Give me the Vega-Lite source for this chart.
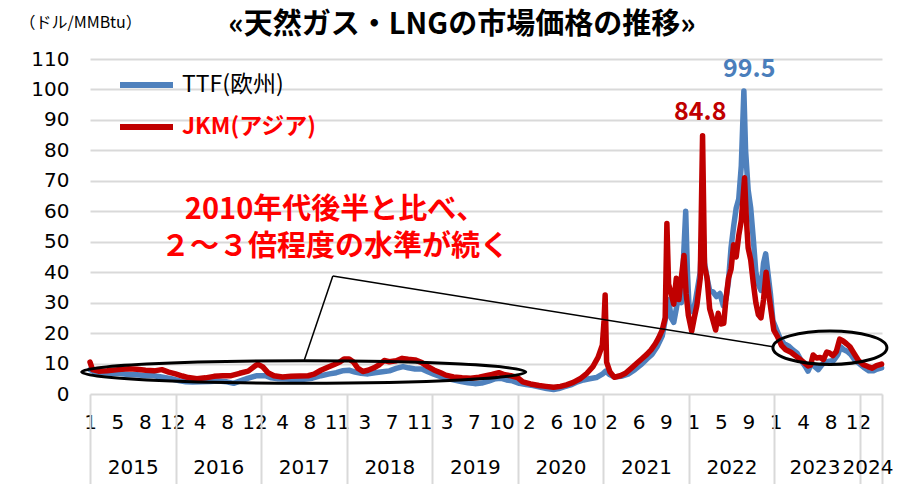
{
"$schema": "https://vega.github.io/schema/vega-lite/v6.json",
"width": 792, "height": 335,
"autosize": {"type": "none"},
"padding": {"left": 90, "top": 59, "right": 33, "bottom": 90},
"background": "white",
"config": {"view": {"stroke": null}, "font": "DejaVu Sans"},
"title": {"text": "«天然ガス・LNGの市場価格の推移»", "font": "Noto Sans CJK JP", "fontWeight": "bold", "fontSize": 29, "color": "#000000", "anchor": "middle", "frame": "group", "dx": -24, "offset": -26},
"datasets": {
"prices": [
{"s":"TTF(欧州)","year":2015.00,"price":8.0},{"s":"TTF(欧州)","year":2015.05,"price":7.3},{"s":"TTF(欧州)","year":2015.15,"price":7.0},{"s":"TTF(欧州)","year":2015.25,"price":6.8},{"s":"TTF(欧州)","year":2015.35,"price":6.7},{"s":"TTF(欧州)","year":2015.45,"price":6.4},{"s":"TTF(欧州)","year":2015.55,"price":6.3},{"s":"TTF(欧州)","year":2015.65,"price":6.0},{"s":"TTF(欧州)","year":2015.75,"price":6.0},{"s":"TTF(欧州)","year":2015.85,"price":5.5},{"s":"TTF(欧州)","year":2015.95,"price":5.0},
{"s":"TTF(欧州)","year":2016.05,"price":4.3},{"s":"TTF(欧州)","year":2016.12,"price":4.0},{"s":"TTF(欧州)","year":2016.20,"price":3.9},{"s":"TTF(欧州)","year":2016.30,"price":4.0},{"s":"TTF(欧州)","year":2016.40,"price":4.1},{"s":"TTF(欧州)","year":2016.50,"price":4.3},{"s":"TTF(欧州)","year":2016.60,"price":4.0},{"s":"TTF(欧州)","year":2016.68,"price":3.5},{"s":"TTF(欧州)","year":2016.75,"price":4.2},{"s":"TTF(欧州)","year":2016.85,"price":5.2},{"s":"TTF(欧州)","year":2016.95,"price":6.0},
{"s":"TTF(欧州)","year":2017.05,"price":6.0},{"s":"TTF(欧州)","year":2017.12,"price":5.3},{"s":"TTF(欧州)","year":2017.20,"price":5.0},{"s":"TTF(欧州)","year":2017.30,"price":4.9},{"s":"TTF(欧州)","year":2017.40,"price":4.8},{"s":"TTF(欧州)","year":2017.50,"price":4.8},{"s":"TTF(欧州)","year":2017.60,"price":5.2},{"s":"TTF(欧州)","year":2017.70,"price":6.0},{"s":"TTF(欧州)","year":2017.80,"price":6.6},{"s":"TTF(欧州)","year":2017.88,"price":7.0},{"s":"TTF(欧州)","year":2017.95,"price":7.6},
{"s":"TTF(欧州)","year":2018.03,"price":7.8},{"s":"TTF(欧州)","year":2018.10,"price":7.2},{"s":"TTF(欧州)","year":2018.17,"price":6.8},{"s":"TTF(欧州)","year":2018.25,"price":6.6},{"s":"TTF(欧州)","year":2018.33,"price":7.0},{"s":"TTF(欧州)","year":2018.42,"price":7.3},{"s":"TTF(欧州)","year":2018.50,"price":7.6},{"s":"TTF(欧州)","year":2018.58,"price":8.4},{"s":"TTF(欧州)","year":2018.66,"price":9.0},{"s":"TTF(欧州)","year":2018.72,"price":8.6},{"s":"TTF(欧州)","year":2018.80,"price":8.2},{"s":"TTF(欧州)","year":2018.88,"price":8.2},{"s":"TTF(欧州)","year":2018.95,"price":7.3},
{"s":"TTF(欧州)","year":2019.02,"price":6.5},{"s":"TTF(欧州)","year":2019.10,"price":5.7},{"s":"TTF(欧州)","year":2019.18,"price":5.1},{"s":"TTF(欧州)","year":2019.26,"price":4.6},{"s":"TTF(欧州)","year":2019.34,"price":4.1},{"s":"TTF(欧州)","year":2019.42,"price":3.7},{"s":"TTF(欧州)","year":2019.50,"price":3.4},{"s":"TTF(欧州)","year":2019.58,"price":3.6},{"s":"TTF(欧州)","year":2019.66,"price":4.2},{"s":"TTF(欧州)","year":2019.74,"price":5.0},{"s":"TTF(欧州)","year":2019.80,"price":5.2},{"s":"TTF(欧州)","year":2019.87,"price":4.6},{"s":"TTF(欧州)","year":2019.94,"price":4.3},
{"s":"TTF(欧州)","year":2020.02,"price":3.5},{"s":"TTF(欧州)","year":2020.10,"price":3.1},{"s":"TTF(欧州)","year":2020.18,"price":2.8},{"s":"TTF(欧州)","year":2020.26,"price":2.3},{"s":"TTF(欧州)","year":2020.34,"price":1.8},{"s":"TTF(欧州)","year":2020.42,"price":1.5},{"s":"TTF(欧州)","year":2020.48,"price":1.8},{"s":"TTF(欧州)","year":2020.55,"price":2.4},{"s":"TTF(欧州)","year":2020.62,"price":3.0},{"s":"TTF(欧州)","year":2020.70,"price":4.0},{"s":"TTF(欧州)","year":2020.77,"price":4.6},{"s":"TTF(欧州)","year":2020.84,"price":5.0},{"s":"TTF(欧州)","year":2020.92,"price":5.4},{"s":"TTF(欧州)","year":2020.99,"price":6.5},
{"s":"TTF(欧州)","year":2021.03,"price":7.5},{"s":"TTF(欧州)","year":2021.07,"price":6.5},{"s":"TTF(欧州)","year":2021.13,"price":5.6},{"s":"TTF(欧州)","year":2021.21,"price":5.8},{"s":"TTF(欧州)","year":2021.29,"price":6.5},{"s":"TTF(欧州)","year":2021.37,"price":8.0},{"s":"TTF(欧州)","year":2021.45,"price":9.8},{"s":"TTF(欧州)","year":2021.51,"price":11.5},{"s":"TTF(欧州)","year":2021.57,"price":13.0},{"s":"TTF(欧州)","year":2021.63,"price":15.5},{"s":"TTF(欧州)","year":2021.69,"price":19.0},{"s":"TTF(欧州)","year":2021.73,"price":25.0},{"s":"TTF(欧州)","year":2021.765,"price":31.0},{"s":"TTF(欧州)","year":2021.795,"price":25.0},{"s":"TTF(欧州)","year":2021.825,"price":23.5},{"s":"TTF(欧州)","year":2021.855,"price":28.0},{"s":"TTF(欧州)","year":2021.885,"price":33.0},{"s":"TTF(欧州)","year":2021.915,"price":30.0},{"s":"TTF(欧州)","year":2021.94,"price":45.0},{"s":"TTF(欧州)","year":2021.965,"price":60.0},{"s":"TTF(欧州)","year":2021.985,"price":40.0},
{"s":"TTF(欧州)","year":2022.005,"price":28.0},{"s":"TTF(欧州)","year":2022.045,"price":27.0},{"s":"TTF(欧州)","year":2022.075,"price":30.0},{"s":"TTF(欧州)","year":2022.105,"price":35.0},{"s":"TTF(欧州)","year":2022.135,"price":40.0},{"s":"TTF(欧州)","year":2022.162,"price":58.0},{"s":"TTF(欧州)","year":2022.185,"price":43.0},{"s":"TTF(欧州)","year":2022.215,"price":38.0},{"s":"TTF(欧州)","year":2022.245,"price":34.0},{"s":"TTF(欧州)","year":2022.285,"price":33.5},{"s":"TTF(欧州)","year":2022.325,"price":32.0},{"s":"TTF(欧州)","year":2022.365,"price":33.0},{"s":"TTF(欧州)","year":2022.405,"price":29.0},{"s":"TTF(欧州)","year":2022.435,"price":31.0},{"s":"TTF(欧州)","year":2022.465,"price":37.0},{"s":"TTF(欧州)","year":2022.495,"price":48.0},{"s":"TTF(欧州)","year":2022.525,"price":55.0},{"s":"TTF(欧州)","year":2022.555,"price":61.0},{"s":"TTF(欧州)","year":2022.585,"price":64.0},{"s":"TTF(欧州)","year":2022.615,"price":75.0},{"s":"TTF(欧州)","year":2022.645,"price":99.5},{"s":"TTF(欧州)","year":2022.665,"price":80.0},{"s":"TTF(欧州)","year":2022.695,"price":67.0},{"s":"TTF(欧州)","year":2022.725,"price":61.0},{"s":"TTF(欧州)","year":2022.755,"price":51.0},{"s":"TTF(欧州)","year":2022.785,"price":40.0},{"s":"TTF(欧州)","year":2022.815,"price":36.0},{"s":"TTF(欧州)","year":2022.845,"price":34.0},{"s":"TTF(欧州)","year":2022.875,"price":43.0},{"s":"TTF(欧州)","year":2022.90,"price":46.0},{"s":"TTF(欧州)","year":2022.925,"price":40.0},{"s":"TTF(欧州)","year":2022.955,"price":33.0},{"s":"TTF(欧州)","year":2022.985,"price":24.0},
{"s":"TTF(欧州)","year":2023.015,"price":22.0},{"s":"TTF(欧州)","year":2023.065,"price":18.5},{"s":"TTF(欧州)","year":2023.115,"price":16.5},{"s":"TTF(欧州)","year":2023.165,"price":15.8},{"s":"TTF(欧州)","year":2023.215,"price":14.5},{"s":"TTF(欧州)","year":2023.265,"price":13.5},{"s":"TTF(欧州)","year":2023.315,"price":11.0},{"s":"TTF(欧州)","year":2023.365,"price":9.0},{"s":"TTF(欧州)","year":2023.395,"price":7.5},{"s":"TTF(欧州)","year":2023.435,"price":10.0},{"s":"TTF(欧州)","year":2023.475,"price":9.0},{"s":"TTF(欧州)","year":2023.515,"price":8.0},{"s":"TTF(欧州)","year":2023.555,"price":9.5},{"s":"TTF(欧州)","year":2023.595,"price":10.5},{"s":"TTF(欧州)","year":2023.645,"price":10.8},{"s":"TTF(欧州)","year":2023.695,"price":11.0},{"s":"TTF(欧州)","year":2023.745,"price":13.0},{"s":"TTF(欧州)","year":2023.775,"price":15.5},{"s":"TTF(欧州)","year":2023.815,"price":14.5},{"s":"TTF(欧州)","year":2023.855,"price":14.0},{"s":"TTF(欧州)","year":2023.895,"price":13.0},{"s":"TTF(欧州)","year":2023.945,"price":11.0},{"s":"TTF(欧州)","year":2023.995,"price":10.0},
{"s":"TTF(欧州)","year":2024.045,"price":8.8},{"s":"TTF(欧州)","year":2024.105,"price":7.6},{"s":"TTF(欧州)","year":2024.155,"price":7.6},{"s":"TTF(欧州)","year":2024.205,"price":8.2},{"s":"TTF(欧州)","year":2024.255,"price":8.6},
{"s":"JKM(アジア)","year":2015.00,"price":10.5},{"s":"JKM(アジア)","year":2015.03,"price":8.0},{"s":"JKM(アジア)","year":2015.10,"price":7.5},{"s":"JKM(アジア)","year":2015.20,"price":7.6},{"s":"JKM(アジア)","year":2015.33,"price":8.0},{"s":"JKM(アジア)","year":2015.45,"price":8.3},{"s":"JKM(アジア)","year":2015.55,"price":8.1},{"s":"JKM(アジア)","year":2015.65,"price":7.8},{"s":"JKM(アジア)","year":2015.75,"price":7.6},{"s":"JKM(アジア)","year":2015.84,"price":8.0},{"s":"JKM(アジア)","year":2015.92,"price":7.2},
{"s":"JKM(アジア)","year":2016.00,"price":6.6},{"s":"JKM(アジア)","year":2016.08,"price":5.9},{"s":"JKM(アジア)","year":2016.15,"price":5.4},{"s":"JKM(アジア)","year":2016.25,"price":5.0},{"s":"JKM(アジア)","year":2016.35,"price":5.3},{"s":"JKM(アジア)","year":2016.45,"price":5.8},{"s":"JKM(アジア)","year":2016.55,"price":6.0},{"s":"JKM(アジア)","year":2016.65,"price":6.0},{"s":"JKM(アジア)","year":2016.75,"price":6.8},{"s":"JKM(アジア)","year":2016.85,"price":7.5},{"s":"JKM(アジア)","year":2016.92,"price":9.0},{"s":"JKM(アジア)","year":2016.96,"price":9.8},
{"s":"JKM(アジア)","year":2017.02,"price":8.9},{"s":"JKM(アジア)","year":2017.08,"price":7.0},{"s":"JKM(アジア)","year":2017.15,"price":6.0},{"s":"JKM(アジア)","year":2017.25,"price":5.6},{"s":"JKM(アジア)","year":2017.35,"price":5.8},{"s":"JKM(アジア)","year":2017.45,"price":5.9},{"s":"JKM(アジア)","year":2017.55,"price":6.0},{"s":"JKM(アジア)","year":2017.62,"price":6.5},{"s":"JKM(アジア)","year":2017.70,"price":7.8},{"s":"JKM(アジア)","year":2017.78,"price":8.8},{"s":"JKM(アジア)","year":2017.85,"price":9.6},{"s":"JKM(アジア)","year":2017.92,"price":10.5},{"s":"JKM(アジア)","year":2017.97,"price":11.5},
{"s":"JKM(アジア)","year":2018.03,"price":11.5},{"s":"JKM(アジア)","year":2018.08,"price":10.5},{"s":"JKM(アジア)","year":2018.13,"price":8.5},{"s":"JKM(アジア)","year":2018.19,"price":7.4},{"s":"JKM(アジア)","year":2018.25,"price":7.8},{"s":"JKM(アジア)","year":2018.32,"price":8.6},{"s":"JKM(アジア)","year":2018.38,"price":9.6},{"s":"JKM(アジア)","year":2018.44,"price":11.0},{"s":"JKM(アジア)","year":2018.50,"price":10.6},{"s":"JKM(アジア)","year":2018.58,"price":10.9},{"s":"JKM(アジア)","year":2018.65,"price":11.7},{"s":"JKM(アジア)","year":2018.72,"price":11.4},{"s":"JKM(アジア)","year":2018.80,"price":11.2},{"s":"JKM(アジア)","year":2018.88,"price":10.3},{"s":"JKM(アジア)","year":2018.95,"price":9.0},
{"s":"JKM(アジア)","year":2019.02,"price":7.9},{"s":"JKM(アジア)","year":2019.10,"price":7.0},{"s":"JKM(アジア)","year":2019.16,"price":6.2},{"s":"JKM(アジア)","year":2019.25,"price":5.6},{"s":"JKM(アジア)","year":2019.35,"price":5.3},{"s":"JKM(アジア)","year":2019.45,"price":5.2},{"s":"JKM(アジア)","year":2019.55,"price":5.5},{"s":"JKM(アジア)","year":2019.63,"price":6.0},{"s":"JKM(アジア)","year":2019.70,"price":6.4},{"s":"JKM(アジア)","year":2019.78,"price":7.0},{"s":"JKM(アジア)","year":2019.85,"price":6.3},{"s":"JKM(アジア)","year":2019.92,"price":6.0},
{"s":"JKM(アジア)","year":2020.00,"price":5.4},{"s":"JKM(アジア)","year":2020.06,"price":4.0},{"s":"JKM(アジア)","year":2020.15,"price":3.3},{"s":"JKM(アジア)","year":2020.25,"price":2.8},{"s":"JKM(アジア)","year":2020.33,"price":2.5},{"s":"JKM(アジア)","year":2020.42,"price":2.2},{"s":"JKM(アジア)","year":2020.50,"price":2.5},{"s":"JKM(アジア)","year":2020.57,"price":3.0},{"s":"JKM(アジア)","year":2020.65,"price":3.8},{"s":"JKM(アジア)","year":2020.73,"price":5.0},{"s":"JKM(アジア)","year":2020.81,"price":6.8},{"s":"JKM(アジア)","year":2020.88,"price":9.0},{"s":"JKM(アジア)","year":2020.94,"price":12.0},{"s":"JKM(アジア)","year":2020.99,"price":16.0},
{"s":"JKM(アジア)","year":2021.01,"price":24.0},{"s":"JKM(アジア)","year":2021.023,"price":32.5},{"s":"JKM(アジア)","year":2021.04,"price":10.5},{"s":"JKM(アジア)","year":2021.08,"price":7.2},{"s":"JKM(アジア)","year":2021.13,"price":5.5},{"s":"JKM(アジア)","year":2021.20,"price":6.0},{"s":"JKM(アジア)","year":2021.26,"price":6.8},{"s":"JKM(アジア)","year":2021.33,"price":8.5},{"s":"JKM(アジア)","year":2021.39,"price":10.0},{"s":"JKM(アジア)","year":2021.45,"price":11.5},{"s":"JKM(アジア)","year":2021.51,"price":13.0},{"s":"JKM(アジア)","year":2021.56,"price":14.5},{"s":"JKM(アジア)","year":2021.61,"price":16.5},{"s":"JKM(アジア)","year":2021.65,"price":18.5},{"s":"JKM(アジア)","year":2021.69,"price":21.0},{"s":"JKM(アジア)","year":2021.725,"price":25.0},{"s":"JKM(アジア)","year":2021.745,"price":56.0},{"s":"JKM(アジア)","year":2021.765,"price":36.0},{"s":"JKM(アジア)","year":2021.795,"price":33.0},{"s":"JKM(アジア)","year":2021.825,"price":29.5},{"s":"JKM(アジア)","year":2021.855,"price":38.0},{"s":"JKM(アジア)","year":2021.885,"price":31.0},{"s":"JKM(アジア)","year":2021.915,"price":38.5},{"s":"JKM(アジア)","year":2021.945,"price":45.5},{"s":"JKM(アジア)","year":2021.97,"price":33.0},{"s":"JKM(アジア)","year":2021.995,"price":26.0},
{"s":"JKM(アジア)","year":2022.035,"price":20.6},{"s":"JKM(アジア)","year":2022.065,"price":25.0},{"s":"JKM(アジア)","year":2022.095,"price":29.0},{"s":"JKM(アジア)","year":2022.135,"price":38.0},{"s":"JKM(アジア)","year":2022.162,"price":84.8},{"s":"JKM(アジア)","year":2022.185,"price":42.0},{"s":"JKM(アジア)","year":2022.215,"price":38.0},{"s":"JKM(アジア)","year":2022.245,"price":28.0},{"s":"JKM(アジア)","year":2022.275,"price":25.0},{"s":"JKM(アジア)","year":2022.315,"price":21.0},{"s":"JKM(アジア)","year":2022.345,"price":26.5},{"s":"JKM(アジア)","year":2022.375,"price":23.0},{"s":"JKM(アジア)","year":2022.41,"price":23.2},{"s":"JKM(アジア)","year":2022.435,"price":31.0},{"s":"JKM(アジア)","year":2022.465,"price":38.0},{"s":"JKM(アジア)","year":2022.495,"price":41.0},{"s":"JKM(アジア)","year":2022.525,"price":49.0},{"s":"JKM(アジア)","year":2022.555,"price":45.0},{"s":"JKM(アジア)","year":2022.585,"price":52.0},{"s":"JKM(アジア)","year":2022.615,"price":57.0},{"s":"JKM(アジア)","year":2022.653,"price":71.0},{"s":"JKM(アジア)","year":2022.675,"price":57.0},{"s":"JKM(アジア)","year":2022.695,"price":48.0},{"s":"JKM(アジア)","year":2022.725,"price":44.0},{"s":"JKM(アジア)","year":2022.755,"price":36.5},{"s":"JKM(アジア)","year":2022.785,"price":30.0},{"s":"JKM(アジア)","year":2022.815,"price":26.0},{"s":"JKM(アジア)","year":2022.845,"price":25.0},{"s":"JKM(アジア)","year":2022.875,"price":31.0},{"s":"JKM(アジア)","year":2022.905,"price":40.0},{"s":"JKM(アジア)","year":2022.935,"price":33.0},{"s":"JKM(アジア)","year":2022.965,"price":27.0},{"s":"JKM(アジア)","year":2022.995,"price":21.0},
{"s":"JKM(アジア)","year":2023.035,"price":19.0},{"s":"JKM(アジア)","year":2023.085,"price":16.0},{"s":"JKM(アジア)","year":2023.135,"price":14.5},{"s":"JKM(アジア)","year":2023.195,"price":13.7},{"s":"JKM(アジア)","year":2023.265,"price":12.2},{"s":"JKM(アジア)","year":2023.335,"price":10.6},{"s":"JKM(アジア)","year":2023.395,"price":9.2},{"s":"JKM(アジア)","year":2023.425,"price":9.5},{"s":"JKM(アジア)","year":2023.455,"price":12.8},{"s":"JKM(アジア)","year":2023.495,"price":11.8},{"s":"JKM(アジア)","year":2023.535,"price":12.0},{"s":"JKM(アジア)","year":2023.575,"price":11.3},{"s":"JKM(アジア)","year":2023.615,"price":13.8},{"s":"JKM(アジア)","year":2023.645,"price":13.5},{"s":"JKM(アジア)","year":2023.685,"price":12.6},{"s":"JKM(アジア)","year":2023.725,"price":13.9},{"s":"JKM(アジア)","year":2023.765,"price":18.0},{"s":"JKM(アジア)","year":2023.805,"price":17.4},{"s":"JKM(アジア)","year":2023.845,"price":16.5},{"s":"JKM(アジア)","year":2023.885,"price":15.5},{"s":"JKM(アジア)","year":2023.935,"price":13.2},{"s":"JKM(アジア)","year":2023.985,"price":11.0},
{"s":"JKM(アジア)","year":2024.045,"price":9.6},{"s":"JKM(アジア)","year":2024.095,"price":9.0},{"s":"JKM(アジア)","year":2024.145,"price":8.5},{"s":"JKM(アジア)","year":2024.195,"price":9.3},{"s":"JKM(アジア)","year":2024.255,"price":9.8}
],
"yearBounds": [{"year":2015},{"year":2016},{"year":2017},{"year":2018},{"year":2019},{"year":2020},{"year":2021},{"year":2022},{"year":2023},{"year":2024},{"year":2024.26}],
"yearNames": [{"year":2015.5},{"year":2016.5},{"year":2017.5},{"year":2018.5},{"year":2019.5},{"year":2020.5},{"year":2021.5},{"year":2022.5},{"year":2023.47},{"year":2024.09}]
},
"layer": [
{
"data": {"name": "prices"},
"mark": {"type": "line", "strokeWidth": 5.5, "strokeCap": "round", "strokeJoin": "round"},
"encoding": {
"x": {"field": "year", "type": "quantitative", "scale": {"domain": [2015, 2024.26], "nice": false, "zero": false},
"axis": {"orient": "bottom", "title": null, "grid": false, "domain": false, "ticks": false, "labelFontSize": 20, "labelFont": "DejaVu Sans", "labelFontWeight": "normal", "labelColor": "#000000", "labelPadding": 18, "labelFlush": false, "labelOverlap": false,
"values": [2015, 2015.3207, 2015.6414, 2015.962, 2016.2827, 2016.6034, 2016.9241, 2017.2448, 2017.5654, 2017.8861, 2018.2068, 2018.5275, 2018.8482, 2019.1688, 2019.4895, 2019.8102, 2020.1309, 2020.4516, 2020.7722, 2021.0929, 2021.4136, 2021.7343, 2022.055, 2022.3756, 2022.6963, 2023.017, 2023.3377, 2023.6584, 2023.979],
"labelExpr": "['1','5','8','12','4','8','12','4','8','11','3','7','11','3','7','10','2','6','10','2','6','9','1','5','9','1','4','8','12'][round((datum.value-2015)/0.32068)]"}},
"y": {"field": "price", "type": "quantitative", "scale": {"domain": [0, 110], "nice": false},
"axis": {"orient": "left", "values": [0,10,20,30,40,50,60,70,80,90,100,110], "labelOverlap": false, "grid": true, "gridColor": "#d9d9d9", "gridWidth": 2, "domain": false, "ticks": false, "labelFontSize": 20, "labelFont": "DejaVu Sans", "labelFontWeight": "normal", "labelColor": "#000000", "labelPadding": 21,
"title": "（ドル/MMBtu）", "titleAngle": 0, "titleAlign": "left", "titleBaseline": "middle", "titleX": -71, "titleY": -37, "titleFontSize": 16, "titleFont": "Noto Sans CJK JP", "titleFontWeight": "normal", "titleColor": "#000000"}},
"color": {"field": "s", "type": "nominal", "scale": {"domain": ["TTF(欧州)", "JKM(アジア)"], "range": ["#4f81bd", "#c00000"]},
"legend": {"orient": "none", "legendX": 27, "legendY": 5, "title": null, "padding": 0, "symbolType": "stroke", "symbolSize": 2809, "symbolStrokeWidth": 6, "clipHeight": 42, "rowPadding": 0, "labelOffset": 6, "labelFontSize": 23, "labelFont": "Noto Sans CJK JP",
"labelColor": {"expr": "datum.label == 'JKM(アジア)' ? '#ff0000' : '#000000'"},
"labelFontWeight": {"expr": "datum.label == 'JKM(アジア)' ? 'bold' : 'normal'"}}}
}
},
{
"data": {"name": "yearBounds"},
"mark": {"type": "rule", "opacity": 0},
"encoding": {
"x": {"field": "year", "type": "quantitative", "scale": {"domain": [2015, 2024.26], "nice": false, "zero": false},
"axis": {"orient": "bottom", "title": null, "grid": false, "domain": false, "labels": false, "ticks": true, "tickSize": 90, "tickColor": "#d9d9d9", "tickWidth": 2,
"values": [2015, 2016, 2017, 2018, 2019, 2020, 2021, 2022, 2023, 2024, 2024.26]}}
}
},
{
"data": {"name": "yearNames"},
"mark": {"type": "rule", "opacity": 0},
"encoding": {
"x": {"field": "year", "type": "quantitative", "scale": {"domain": [2015, 2024.26], "nice": false, "zero": false},
"axis": {"orient": "bottom", "title": null, "grid": false, "domain": false, "ticks": false, "labelFontSize": 20, "labelFont": "DejaVu Sans", "labelFontWeight": "normal", "labelColor": "#000000", "labelPadding": 63, "labelFlush": false, "labelOverlap": false,
"values": [2015.5, 2016.5, 2017.5, 2018.5, 2019.5, 2020.5, 2021.5, 2022.5, 2023.47, 2024.09],
"labelExpr": "floor(datum.value)"}}
}
},
{
"data": {"values": [{}]},
"mark": {"type": "point", "filled": false, "stroke": "#000000", "strokeWidth": 3, "opacity": 1, "size": 197136,
"shape": "M -1 0 C -1 -0.0278 -0.5523 -0.0504 0 -0.0504 C 0.5523 -0.0504 1 -0.0278 1 0 C 1 0.0278 0.5523 0.0504 0 0.0504 C -0.5523 0.0504 -1 0.0278 -1 0 Z"},
"encoding": {
"x": {"datum": 2017.499, "type": "quantitative", "axis": null},
"y": {"datum": 7.22, "type": "quantitative", "axis": null}
}
},
{
"data": {"values": [{}]},
"mark": {"type": "point", "filled": false, "stroke": "#000000", "strokeWidth": 3, "opacity": 1, "size": 12996,
"shape": "M -1 0 C -1 -0.1618 -0.5523 -0.293 0 -0.293 C 0.5523 -0.293 1 -0.1618 1 0 C 1 0.1618 0.5523 0.293 0 0.293 C -0.5523 0.293 -1 0.1618 -1 0 Z"},
"encoding": {
"x": {"datum": 2023.651, "type": "quantitative", "axis": null},
"y": {"datum": 15.2, "type": "quantitative", "axis": null}
}
},
{
"data": {"values": [{}]},
"mark": {"type": "rule", "stroke": "#000000", "strokeWidth": 1.5},
"encoding": {
"x": {"datum": 2017.506, "type": "quantitative", "axis": null},
"y": {"datum": 11.17, "type": "quantitative", "axis": null},
"x2": {"datum": 2017.839},
"y2": {"datum": 38.75}
}
},
{
"data": {"values": [{}]},
"mark": {"type": "rule", "stroke": "#000000", "strokeWidth": 1.5},
"encoding": {
"x": {"datum": 2017.839, "type": "quantitative", "axis": null},
"y": {"datum": 38.75, "type": "quantitative", "axis": null},
"x2": {"datum": 2022.985},
"y2": {"datum": 15.53}
}
},
{
"data": {"values": [{}]},
"mark": {"type": "text", "font": "Noto Sans CJK JP", "fontWeight": "bold", "fontSize": 25, "color": "#4a7ebb", "baseline": "middle", "align": "center"},
"encoding": {
"x": {"datum": 2022.708, "type": "quantitative", "axis": null},
"y": {"datum": 106.7, "type": "quantitative", "axis": null},
"text": {"value": "99.5"}
}
},
{
"data": {"values": [{}]},
"mark": {"type": "text", "font": "Noto Sans CJK JP", "fontWeight": "bold", "fontSize": 25, "color": "#c00000", "baseline": "middle", "align": "center"},
"encoding": {
"x": {"datum": 2022.135, "type": "quantitative", "axis": null},
"y": {"datum": 92.6, "type": "quantitative", "axis": null},
"text": {"value": "84.8"}
}
},
{
"data": {"values": [{}]},
"mark": {"type": "text", "font": "Noto Sans CJK JP", "fontWeight": "bold", "fontSize": 29, "color": "#ff0000", "baseline": "middle", "align": "center"},
"encoding": {
"x": {"datum": 2017.865, "type": "quantitative", "axis": null},
"y": {"datum": 60.26, "type": "quantitative", "axis": null},
"text": {"value": "2010年代後半と比べ、"}
}
},
{
"data": {"values": [{}]},
"mark": {"type": "text", "font": "Noto Sans CJK JP", "fontWeight": "bold", "fontSize": 29, "color": "#ff0000", "baseline": "middle", "align": "center"},
"encoding": {
"x": {"datum": 2017.865, "type": "quantitative", "axis": null},
"y": {"datum": 48.37, "type": "quantitative", "axis": null},
"text": {"value": "２～３倍程度の水準が続く"}
}
}
],
"resolve": {"scale": {"x": "shared", "y": "shared"}, "axis": {"x": "independent", "y": "independent"}}
}
